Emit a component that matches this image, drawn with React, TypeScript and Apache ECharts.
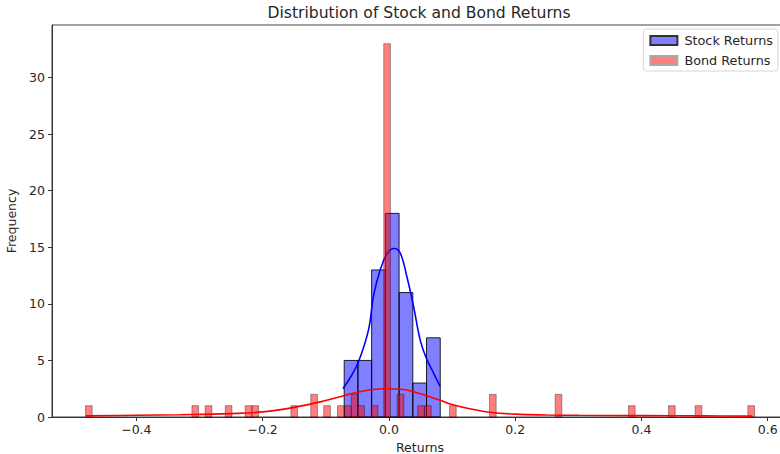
import React, { useEffect, useRef } from "react";
import * as echarts from "echarts";

// Stock histogram: 7 equal bins
const stockBinStart = -0.0708;
const stockBinWidth = 0.02173;
const stockCounts = [5, 5, 13, 18, 11, 3, 7];

// Bond histogram: left edges of non-empty bins and their counts
const bondBinWidth = 0.0106;
const bondBinLefts = [
  -0.4806, -0.312, -0.291, -0.2592, -0.2276, -0.217, -0.1552, -0.1238, -0.1032,
  -0.0814, -0.07, -0.0597, -0.0494, -0.028, -0.0082, 0.0131, 0.0456, 0.0564,
  0.096, 0.1593, 0.2633, 0.3794, 0.4428, 0.485, 0.5685,
];
const bondCounts = [
  1, 1, 1, 1, 1, 1, 1, 2, 1, 1, 1, 2, 1, 1, 33, 2, 1, 1, 1, 2, 2, 1, 1, 1, 1,
];

// KDE curves
const stockKdeX = [
  -0.0728, -0.06, -0.048, -0.0323, -0.0244, -0.0138, -0.0022, 0.0084, 0.0179,
  0.0285, 0.039, 0.0496, 0.06, 0.0706, 0.0812,
];
const stockKdeY = [
  2.5, 3.6, 4.9, 7.7, 10.7, 13.0, 14.5, 14.9, 14.5, 12.4, 9.8, 6.8, 5.1, 3.9, 2.7,
];
const bondKdeX = [
  -0.48, -0.4, -0.33, -0.25, -0.2, -0.15, -0.1, -0.07, -0.04, -0.01, 0.02, 0.05,
  0.08, 0.1, 0.13, 0.16, 0.2, 0.25, 0.3, 0.4, 0.5, 0.5755,
];
const bondKdeY = [
  0.1, 0.15, 0.2, 0.3, 0.45, 0.85, 1.45, 1.9, 2.3, 2.5, 2.45, 2.05, 1.5, 1.1,
  0.7, 0.42, 0.25, 0.18, 0.15, 0.12, 0.1, 0.08,
];

const xTicks = [-0.4, -0.2, 0.0, 0.2, 0.4, 0.6];
const yTicks = [0, 5, 10, 15, 20, 25, 30];

const FONT = "DejaVu Sans";
const TXT = "#262626";

function fmtX(v: number) {
  const s = Math.abs(v).toFixed(1);
  return v < -1e-9 ? "\u2212" + s : s;
}

export default function App() {
  const ref = useRef<HTMLDivElement>(null);
  useEffect(() => {
    document.body.style.margin = "0";
    document.documentElement.style.overflow = "hidden";
    document.body.style.overflow = "hidden";
    if (!ref.current) return;
    const chart = echarts.init(ref.current, null, { renderer: "svg" });

    const stockData = stockCounts.map((c, i) => [
      stockBinStart + i * stockBinWidth,
      stockBinStart + (i + 1) * stockBinWidth,
      c,
    ]);
    const bondData = bondBinLefts.map((l, i) => [l, l + bondBinWidth, bondCounts[i]]);

    const makeRender = (fill: string, stroke: string) => (params: any, api: any) => {
      const p0 = api.coord([api.value(0), api.value(2)]);
      const p1 = api.coord([api.value(1), 0]);
      return {
        type: "rect",
        shape: { x: p0[0], y: p0[1], width: p1[0] - p0[0], height: p1[1] - p0[1] },
        style: { fill, stroke, lineWidth: 1 },
      };
    };

    chart.setOption({
      animation: false,
      backgroundColor: "#ffffff",
      textStyle: { fontFamily: FONT },
      grid: {
        left: 52,
        top: 25,
        width: 736,
        height: 392,
        containLabel: false,
        outerBoundsMode: "none",
        show: true,
        borderColor: "#444",
        borderWidth: 1,
        backgroundColor: "transparent",
      },
      graphic: [
        {
          type: "text",
          x: 419,
          y: 13,
          style: {
            text: "Distribution of Stock and Bond Returns",
            font: `15.6px "${FONT}"`,
            fill: TXT,
            textAlign: "center",
            textVerticalAlign: "middle",
          },
        },
      ],
      legend: {
        orient: "vertical",
        right: 2,
        top: 29,
        itemWidth: 27,
        itemHeight: 9,
        itemGap: 7,
        padding: [5, 5, 4, 6],
        backgroundColor: "#fff",
        borderColor: "#d6d6d6",
        borderWidth: 1,
        borderRadius: 3,
        textStyle: { fontFamily: FONT, fontSize: 12.8, color: TXT, padding: [0, 0, 0, 2] },
        data: [
          { name: "Stock Returns", icon: "rect" },
          { name: "Bond Returns", icon: "rect" },
        ],
      },
      xAxis: {
        type: "value",
        min: -0.5336,
        max: 0.6321,
        name: "Returns",
        nameLocation: "middle",
        nameGap: 22,
        nameTextStyle: { fontFamily: FONT, fontSize: 12.5, color: TXT },
        axisLine: { show: true, onZero: false, lineStyle: { color: "#333", width: 1 } },
        axisTick: {
          show: true,
          length: 4,
          lineStyle: { color: "#333" },
          customValues: xTicks,
        },
        axisLabel: {
          fontFamily: FONT,
          fontSize: 12.5,
          color: TXT,
          margin: 6,
          customValues: xTicks,
          formatter: (v: number) => fmtX(v),
        },
        splitLine: { show: false },
      },
      yAxis: {
        type: "value",
        min: 0,
        max: 34.65,
        name: "Frequency",
        nameLocation: "middle",
        nameGap: 32,
        nameRotate: 90,
        nameTextStyle: { fontFamily: FONT, fontSize: 12.5, color: TXT },
        axisLine: { show: true, onZero: false, lineStyle: { color: "#333", width: 1 } },
        axisTick: {
          show: true,
          length: 4,
          lineStyle: { color: "#333" },
          customValues: yTicks,
        },
        axisLabel: {
          fontFamily: FONT,
          fontSize: 12.5,
          color: TXT,
          margin: 7,
          customValues: yTicks,
        },
        splitLine: { show: false },
      },
      series: [
        {
          name: "Stock Returns",
          type: "custom",
          renderItem: makeRender("rgba(0,0,255,0.5)", "rgba(0,0,0,0.85)"),
          encode: { x: [0, 1], y: 2 },
          data: stockData,
          itemStyle: { color: "rgba(0,0,255,0.5)", borderColor: "#333", borderWidth: 0.7 },
          z: 2,
        },
        {
          name: "Stock KDE",
          type: "line",
          data: stockKdeX.map((x, i) => [x, stockKdeY[i]]),
          smooth: 0.4,
          showSymbol: false,
          symbol: "none",
          lineStyle: { color: "#0000ff", width: 1.6 },
          z: 3,
        },
        {
          name: "Bond Returns",
          type: "custom",
          renderItem: makeRender("rgba(255,0,0,0.5)", "rgba(0,0,0,0.35)"),
          encode: { x: [0, 1], y: 2 },
          data: bondData,
          itemStyle: { color: "rgba(255,0,0,0.5)", borderColor: "#aaa", borderWidth: 0.7 },
          z: 4,
        },
        {
          name: "Bond KDE",
          type: "line",
          data: bondKdeX.map((x, i) => [x, bondKdeY[i]]),
          smooth: 0.4,
          showSymbol: false,
          symbol: "none",
          lineStyle: { color: "#ff0000", width: 1.6 },
          z: 5,
        },
      ],
    });
    return () => chart.dispose();
  }, []);
  return (
    <div style={{ position: "absolute", left: 0, top: 0, width: 780, height: 454, overflow: "hidden" }}>
      <div ref={ref} style={{ width: 780, height: 454, background: "#fff" }} />
    </div>
  );
}
